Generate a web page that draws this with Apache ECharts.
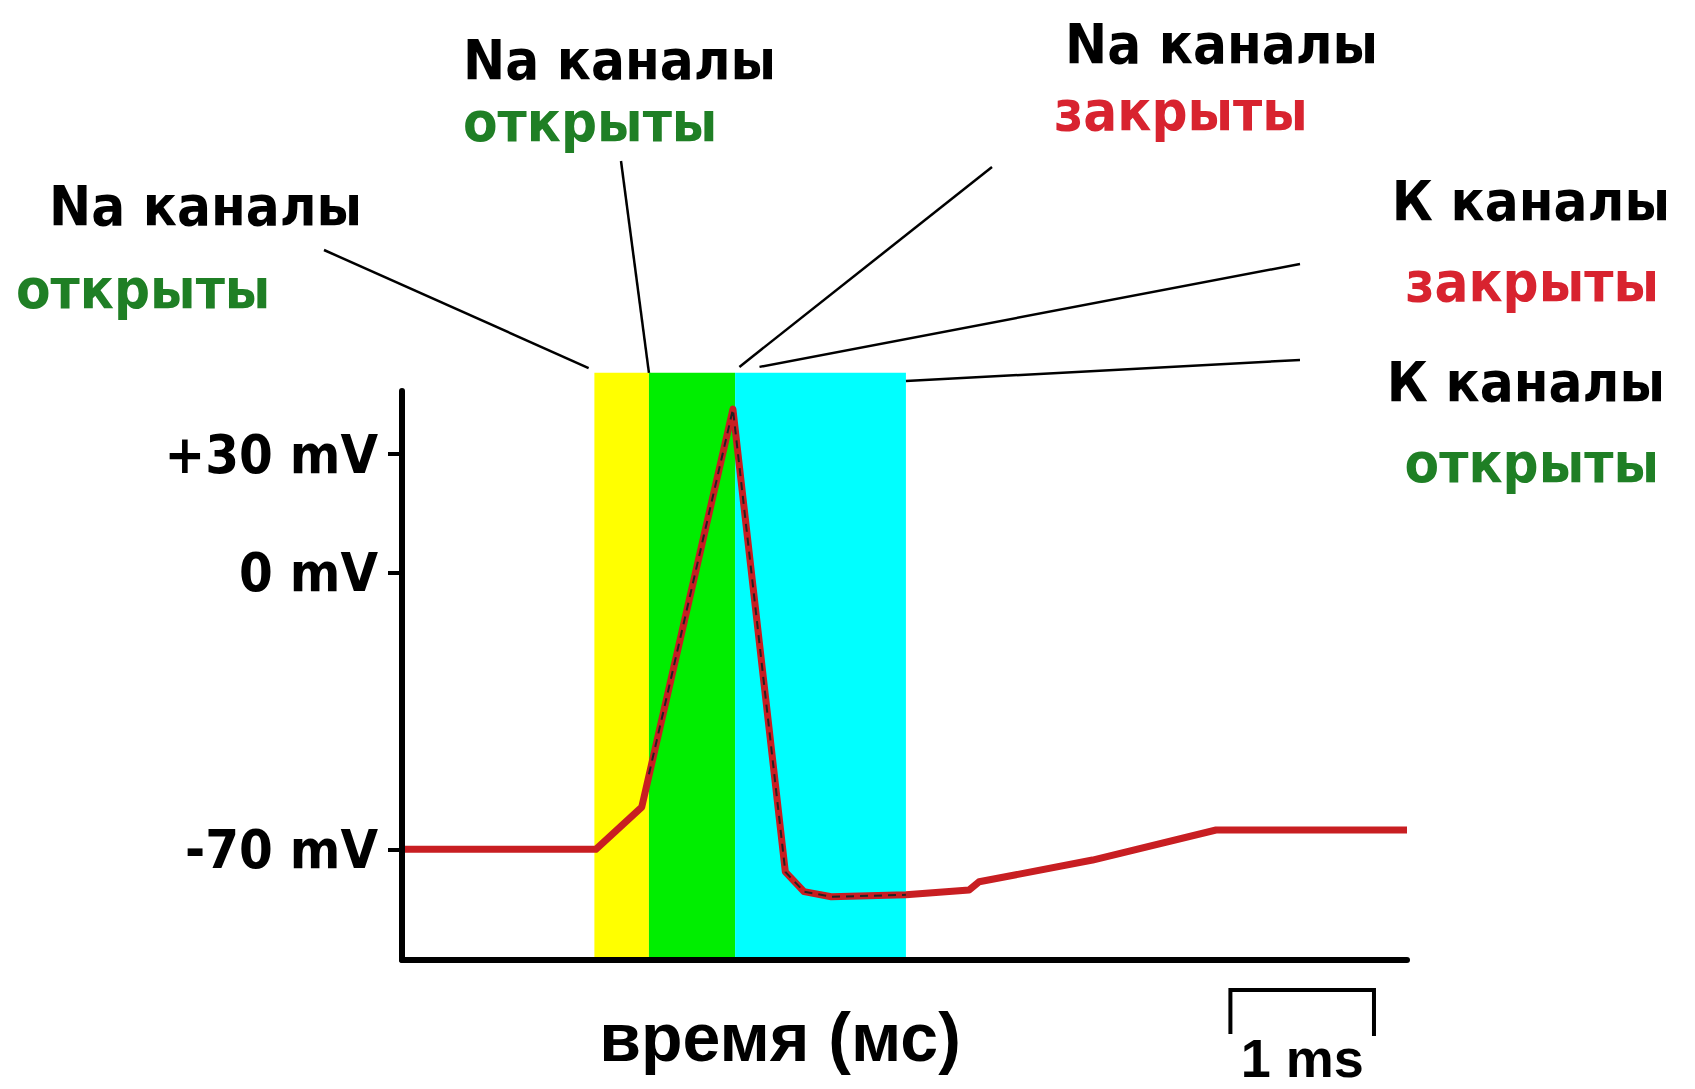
<!DOCTYPE html>
<html>
<head>
<meta charset="utf-8">
<script src="https://cdn.jsdelivr.net/npm/echarts@6/dist/echarts.min.js"></script>
<style>html,body{margin:0;padding:0;background:#fff}#c{width:1695px;height:1089px}</style>
</head>
<body>
<div id="c"></div>
<script>
// ---- data ----
const timeMs    = [0,   1.35, 1.67,  2.305, 2.67,  2.80,  2.99, 3.51,  3.95,  4.02,  4.81,  5.67,  7.0];
const voltageMv = [-70, -70,  -59.3, 41.4,  -75.7, -80.7, -82,  -81.5, -80.3, -78.2, -72.7, -65.1, -65.1];
// darker dashed trace over the spike (green + cyan phases)
const overlayTimeMs = [1.72, 2.305, 2.67, 2.80, 2.99, 3.51];
const overlayMv     = [-51,  41.4,  -75.7, -80.7, -82, -81.5];
// coloured phases (ms)
const bandStartMs = [1.34, 1.72, 2.32];
const bandEndMs   = [1.72, 2.32, 3.51];
const bandTopMv = 50.6;
// y ticks
const yTickValues = [-70, 0, 30];
// scale bar
const scaleBarStartMs = 5.77;
const scaleBarLengthMs = 1;
const scaleBarLabel = '1 ms';
const xAxisTitle = 'время (мс)';
// annotations
const annotLines = [
  ['Na каналы', 'открыты'],
  ['Na каналы', 'открыты'],
  ['Na каналы', 'закрыты'],
  ['К каналы', 'закрыты'],
  ['К каналы', 'открыты']
];
const leaderAnchorMs = [1.30, 1.72, 2.35, 2.49, 3.51];
const leaderAnchorMv = [51.8, 50.6, 52.1, 52.1, 48.5];

// ---- styling / layout ----
const GREEN = '#1f7f25', RED = '#d8232f', LINE_RED = '#c81e22';
const stateColor = {'открыты': GREEN, 'закрыты': RED};
const bandColors = ['#ffff00', '#00ee00', '#00ffff'];
const FONT = '"DejaVu Sans Condensed", "DejaVu Sans", sans-serif';
const yMin = -98, yMax = 46;

const annotLayout = [
  {t1:[49,205,'left'],  t2:[16,288,'left'],  from:[324,250]},
  {t1:[463,59,'left'],  t2:[463,121,'left'], from:[621,161]},
  {t1:[1065,43,'left'], t2:[1054,110,'left'],from:[992,167]},
  {t1:[1670,200,'right'],t2:[1659,281,'right'],from:[1300,264]},
  {t1:[1665,381,'right'],t2:[1659,462,'right'],from:[1300,360]}
];

const chart = echarts.init(document.getElementById('c'), null, {renderer: 'svg', width: 1695, height: 1089});

chart.setOption({
  animation: false,
  backgroundColor: '#fff',
  grid: {left: 402, right: 288, top: 391, bottom: 129},
  xAxis: {
    type: 'value', min: 0, max: 7, z: 5,
    axisLine: {onZero: false, lineStyle: {color: '#000', width: 6}},
    axisTick: {show: false}, axisLabel: {show: false}, splitLine: {show: false}
  },
  yAxis: {
    type: 'value', min: yMin, max: yMax, z: 5,
    axisLine: {show: true, onZero: false, lineStyle: {color: '#000', width: 6}},
    axisTick: {show: true, customValues: yTickValues, length: 14, lineStyle: {color: '#000', width: 4}},
    axisLabel: {
      customValues: yTickValues, margin: 24,
      fontSize: 54, fontWeight: 'bold', fontFamily: FONT, color: '#000',
      formatter: v => (v > 0 ? '+' : '') + v + ' mV'
    },
    splitLine: {show: false}
  },
  series: [
    {
      type: 'custom', z: 1, clip: false, silent: true,
      data: bandStartMs.map((s, i) => [s, bandEndMs[i]]),
      encode: {x: [0, 1]},
      renderItem: (params, api) => {
        const a = api.coord([api.value(0), bandTopMv]);
        const b = api.coord([api.value(1), yMin]);
        return {type: 'rect', shape: {x: a[0], y: a[1], width: b[0] - a[0], height: b[1] - a[1]},
                style: {fill: bandColors[params.dataIndex]}};
      }
    },
    {
      type: 'line', z: 3, showSymbol: false, silent: true,
      data: timeMs.map((t, i) => [t, voltageMv[i]]),
      lineStyle: {color: LINE_RED, width: 7, join: 'round'}
    },
    {
      type: 'line', z: 4, showSymbol: false, silent: true,
      data: overlayTimeMs.map((t, i) => [t, overlayMv[i]]),
      lineStyle: {color: '#222', width: 2, type: [8, 6]}
    }
  ]
});

// ---- annotations (positions of anchors via the chart scales) ----
const graphics = [];
annotLines.forEach((pair, i) => {
  const L = annotLayout[i];
  graphics.push({type: 'text', x: L.t1[0], y: L.t1[1], z: 10,
    style: {text: pair[0], font: 'bold 56px ' + FONT, fill: '#000', textAlign: L.t1[2], textVerticalAlign: 'middle'}});
  graphics.push({type: 'text', x: L.t2[0], y: L.t2[1], z: 10,
    style: {text: pair[1], font: 'bold 56px ' + FONT, fill: stateColor[pair[1]], textAlign: L.t2[2], textVerticalAlign: 'middle'}});
  const p = chart.convertToPixel({gridIndex: 0}, [leaderAnchorMs[i], leaderAnchorMv[i]]);
  graphics.push({type: 'line', z: 10, shape: {x1: L.from[0], y1: L.from[1], x2: p[0], y2: p[1]},
    style: {stroke: '#000', lineWidth: 2.5}});
});
const sx0 = chart.convertToPixel({xAxisIndex: 0}, scaleBarStartMs);
const sx1 = chart.convertToPixel({xAxisIndex: 0}, scaleBarStartMs + scaleBarLengthMs);
graphics.push({type: 'polyline', z: 10, shape: {points: [[sx0, 1034], [sx0, 990], [sx1, 990], [sx1, 1036]]},
  style: {stroke: '#000', lineWidth: 4, fill: null}});
graphics.push({type: 'text', x: (sx0 + sx1) / 2, y: 1085, z: 10,
  style: {text: scaleBarLabel, font: 'bold 54px "Liberation Sans", Arial, sans-serif', fill: '#000', textAlign: 'center', textVerticalAlign: 'bottom'}});
graphics.push({type: 'text', x: 780, y: 1037, z: 10,
  style: {text: xAxisTitle, font: 'bold 68px "Liberation Sans", Arial, sans-serif', fill: '#000', textAlign: 'center', textVerticalAlign: 'middle'}});
chart.setOption({graphic: graphics});
</script>
</body>
</html>
